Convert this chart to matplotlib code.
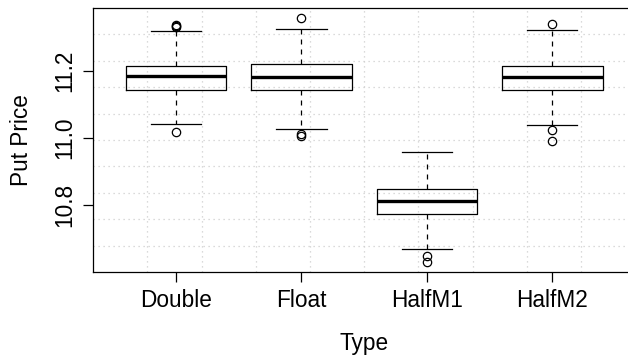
import numpy as np
import matplotlib
matplotlib.use("Agg")
import matplotlib.pyplot as plt

plt.rcParams["font.family"] = ["Liberation Sans", "DejaVu Sans"]

# box summary
types = ["Double", "Float", "HalfM1", "HalfM2"]
q1 = [11.143, 11.143, 10.774, 11.142]
med = [11.183, 11.181, 10.811, 11.180]
q3 = [11.215, 11.219, 10.849, 11.215]
whislo = [11.040, 11.026, 10.669, 11.039]
whishi = [11.319, 11.323, 10.959, 11.322]
outliers = [
    [11.017, 11.330, 11.332, 11.334],
    [11.004, 11.012, 11.357],
    [10.630, 10.650],
    [10.992, 11.024, 11.338],
]
ylim = (10.601, 11.386)

stats = []
for i, name in enumerate(types):
    stats.append(dict(label=name, q1=q1[i], med=med[i], q3=q3[i],
                      whislo=whislo[i], whishi=whishi[i], fliers=outliers[i]))

fig = plt.figure(figsize=(6.28, 3.59), dpi=100)
ax = fig.add_axes([93.2 / 628, 87 / 359, 542 / 628, 264 / 359])

lw = 0.9
ax.bxp(stats, positions=range(1, 5), widths=0.8, capwidths=0.4,
       boxprops=dict(color="black", linewidth=lw),
       medianprops=dict(color="black", linewidth=2.4, solid_capstyle="butt"),
       whiskerprops=dict(color="black", linewidth=lw, linestyle=(0, (4, 4))),
       capprops=dict(color="black", linewidth=lw),
       flierprops=dict(marker="o", markerfacecolor="none", markeredgecolor="black",
                       markersize=6, markeredgewidth=lw))

ax.set_xlim(0.34, 4.66)
ax.set_ylim(*ylim)

# R style grid(): 10 equal divisions
for gx in np.linspace(0.34, 4.66, 11)[1:-1]:
    ax.axvline(gx, color="#cfcfcf", linestyle=(0, (1, 3)), linewidth=0.9, zorder=0)
for gy in np.linspace(ylim[0], ylim[1], 11)[1:-1]:
    ax.axhline(gy, color="#cfcfcf", linestyle=(0, (1, 3)), linewidth=0.9, zorder=0)

ax.set_xticks(range(1, 5))
ax.set_xticklabels(types, fontsize=16.3)
ax.set_yticks([10.8, 11.0, 11.2])
ax.set_yticklabels(["10.8", "11.0", "11.2"], fontsize=16.3, rotation=90, va="center")
ax.tick_params(axis="both", direction="out", length=7.5, width=lw, color="black")
ax.tick_params(axis="x", pad=5)
ax.tick_params(axis="y", pad=5)
for s in ax.spines.values():
    s.set_linewidth(lw)
    s.set_color("black")

ax.set_xlabel("Type", fontsize=16.3, va="center")
ax.xaxis.set_label_coords(0.5, -0.272)
ax.set_ylabel("Put Price", fontsize=16.3, va="center")
ax.yaxis.set_label_coords(-0.133, 0.5)

fig.savefig("out.png", dpi=100)
